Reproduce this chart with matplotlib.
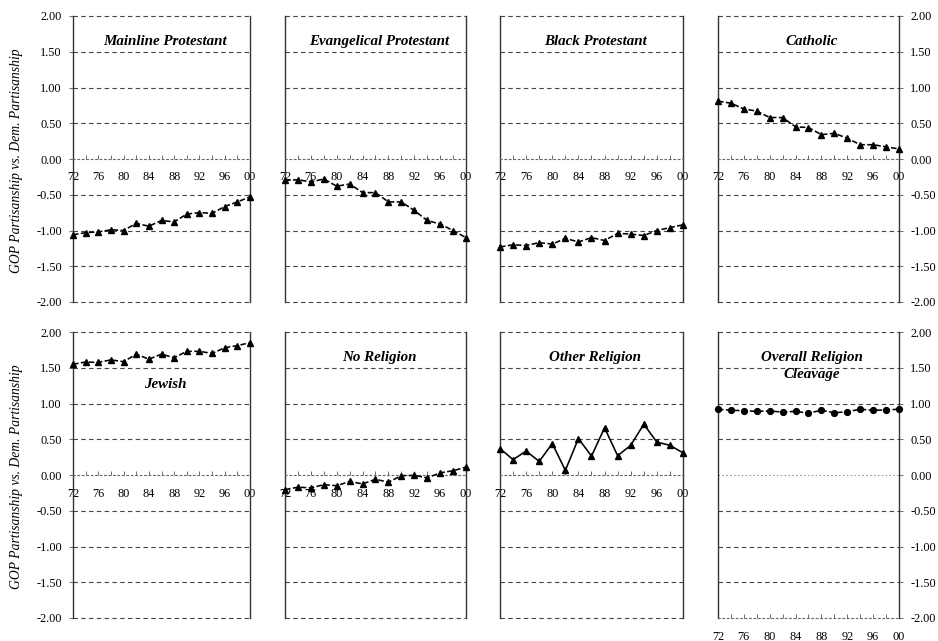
import matplotlib
matplotlib.use('Agg')
import matplotlib.pyplot as plt
import numpy as np
from matplotlib.ticker import FixedLocator

plt.rcParams['font.family'] = ['Liberation Serif', 'DejaVu Serif']

years = [1972, 1974, 1976, 1978, 1980, 1982, 1984, 1986, 1988, 1990, 1992, 1994, 1996, 1998, 2000]
xtick_years = [1972, 1976, 1980, 1984, 1988, 1992, 1996, 2000]
xtick_labels = ['72', '76', '80', '84', '88', '92', '96', '00']
ytick_values = [-2.0, -1.5, -1.0, -0.5, 0.0, 0.5, 1.0, 1.5, 2.0]

mainline = [-1.06, -1.03, -1.02, -0.99, -1.00, -0.90, -0.94, -0.86, -0.88, -0.77, -0.75, -0.76, -0.665, -0.60, -0.53]
evangelical = [-0.30, -0.29, -0.32, -0.28, -0.38, -0.35, -0.47, -0.47, -0.60, -0.60, -0.72, -0.86, -0.91, -1.00, -1.10]
black_prot = [-1.23, -1.20, -1.21, -1.17, -1.19, -1.11, -1.16, -1.10, -1.14, -1.04, -1.05, -1.07, -1.00, -0.96, -0.92]
catholic = [0.81, 0.78, 0.70, 0.67, 0.58, 0.58, 0.45, 0.44, 0.34, 0.36, 0.29, 0.20, 0.20, 0.17, 0.14]
jewish = [1.55, 1.58, 1.575, 1.61, 1.585, 1.69, 1.62, 1.69, 1.64, 1.73, 1.73, 1.70, 1.78, 1.81, 1.85]
no_religion = [-0.205, -0.17, -0.18, -0.135, -0.15, -0.09, -0.125, -0.06, -0.10, -0.01, -0.005, -0.04, 0.03, 0.06, 0.11]
other_religion = [0.37, 0.215, 0.335, 0.19, 0.44, 0.065, 0.51, 0.265, 0.66, 0.27, 0.415, 0.71, 0.46, 0.415, 0.31]
overall = [0.92, 0.905, 0.90, 0.89, 0.895, 0.88, 0.89, 0.865, 0.905, 0.87, 0.885, 0.92, 0.905, 0.91, 0.92]

titles = ['Mainline Protestant', 'Evangelical Protestant', 'Black Protestant', 'Catholic',
          'Jewish', 'No Religion', 'Other Religion', 'Overall Religion\nCleavage']
series = [mainline, evangelical, black_prot, catholic, jewish, no_religion, other_religion, overall]
title_y = [1.64, 1.64, 1.64, 1.64, 1.26, 1.65, 1.65, 1.52]

W, H = 938, 641
fig = plt.figure(figsize=(W / 100, H / 100), dpi=100)

lefts = [73, 285, 500, 718]
widths = [177, 181, 183, 181]
tops = [16, 332]
ph = 286

gridc = '#444444'
for i in range(8):
    r, c = divmod(i, 4)
    l, w, t = lefts[c], widths[c], tops[r]
    ax = fig.add_axes([l / W, 1 - (t + ph) / H, w / W, ph / H])
    ax.set_xlim(1972, 2000)
    ax.set_ylim(-2, 2)
    is_overall = (i == 7)

    # gridlines
    for yv in ytick_values:
        if yv == 0:
            if is_overall:
                ax.axhline(0, color='#888888', lw=0.7, ls=(0, (1.5, 2.5)), zorder=1)
            continue
        if is_overall and yv == -2:
            continue
        ax.axhline(yv, color=gridc, lw=0.8, ls=(0, (4, 3)), clip_on=False, zorder=1)

    ls = '-' if i == 6 else (0, (3.5, 1.5))
    marker = 'o' if is_overall else '^'
    ms = 4.2 if is_overall else 4.5
    ax.plot(years, series[i], ls=ls, marker=marker, color='black', ms=ms, lw=1.15,
            clip_on=False, zorder=3)

    # spines
    for s in ['left', 'right']:
        ax.spines[s].set_color('#333333')
        ax.spines[s].set_linewidth(1.0)
    ax.spines['top'].set_visible(False)
    ax.spines['bottom'].set_color('#666666')
    ax.spines['bottom'].set_linewidth(0.8)
    ax.spines['bottom'].set_linestyle((0, (1.5, 2.5)))
    if not is_overall:
        ax.spines['bottom'].set_position(('data', 0))

    ax.set_xticks(xtick_years)
    ax.set_xticklabels(xtick_labels)
    ax.xaxis.set_minor_locator(FixedLocator([1974, 1978, 1982, 1986, 1990, 1994, 1998]))
    ax.tick_params(axis='x', which='both', direction='in', length=3, width=0.6,
                   color='#555555', pad=9, labelsize=8.8)

    ax.set_yticks(ytick_values)
    if c == 0:
        ax.yaxis.tick_left()
        ax.set_yticklabels([f'{v:.2f}' for v in ytick_values])
        ax.tick_params(axis='y', direction='out', length=3, width=0.6, color='#555555',
                       pad=5, labelsize=8.8)
    elif c == 3:
        ax.yaxis.tick_right()
        ax.set_yticklabels([f'{v:.2f}' for v in ytick_values])
        ax.tick_params(axis='y', direction='out', length=3, width=0.6, color='#555555',
                       pad=5, labelsize=8.8)
    else:
        ax.set_yticklabels([])
        ax.tick_params(axis='y', length=0)

    ax.text(0.52, title_y[i], titles[i], transform=ax.get_yaxis_transform(),
            ha='center', va='center', fontsize=10.8, fontweight='bold', style='italic',
            linespacing=1.4, zorder=4)

for r in range(2):
    yc = 1 - (tops[r] + ph / 2 + 2) / H
    fig.text(17 / W, yc, 'GOP Partisanship vs. Dem. Partisanship', rotation=90,
             ha='center', va='center', fontsize=9.8, style='italic')

fig.savefig('out.png', dpi=100)
